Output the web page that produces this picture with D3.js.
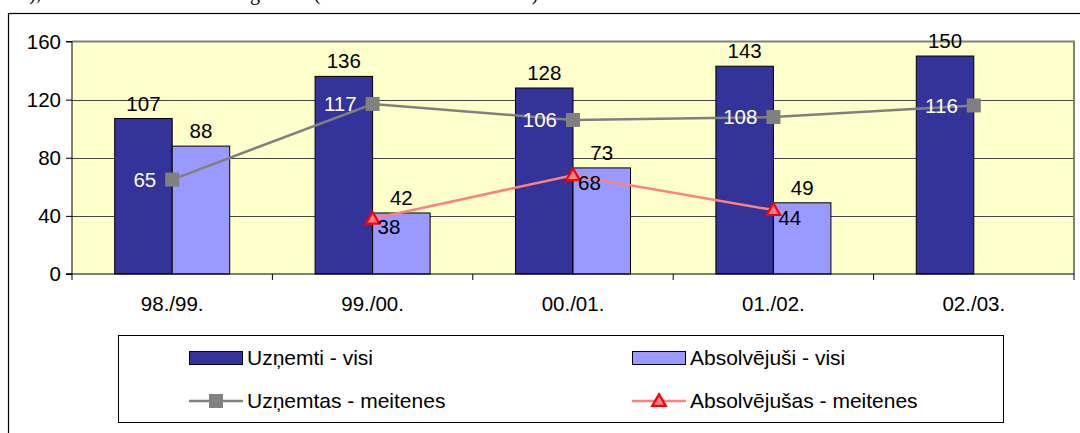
<!DOCTYPE html>
<html>
<head>
<meta charset="utf-8">
<script src="https://cdn.jsdelivr.net/npm/d3@7"></script>
<style>
  html, body { margin: 0; padding: 0; background: #fff; }
  svg { display: block; }
</style>
</head>
<body>
<svg id="chart" width="1080" height="433"></svg>
<script>
// ---- data ----
const categories = ["98./99.", "99./00.", "00./01.", "01./02.", "02./03."];
const uznemtiVisi = [107, 136, 128, 143, 150];
const absolvejusiVisi = [88, 42, 73, 49, null];
const uznemtasMeitenes = [65, 117, 106, 108, 116];
const absolvejusasMeitenes = [null, 38, 68, 44, null];
const yTicks = [0, 40, 80, 120, 160];
const seriesNames = ["Uzņemti - visi", "Absolvējuši - visi", "Uzņemtas - meitenes", "Absolvējušas - meitenes"];

// ---- styles ----
const FONT = "Liberation Sans, Arial, sans-serif";
const FS = 20.5;
const darkBar = "#333399", lightBar = "#9999FF";
const grayLine = "#808080", redLine = "#FF8080", redMarker = "#FF0000";
const plotBg = "#FFFFCC";

const svg = d3.select("#chart");
const plot = { left: 72, right: 1074, top: 41.5, bottom: 274 };

// clipped caption from the document above the chart
const SERIF = "Liberation Serif, Times New Roman, serif";
svg.append("text").attr("x", 41).attr("y", 0).attr("text-anchor", "end")
  .attr("font-family", SERIF).attr("font-size", 20).text("tabulā 3),");
svg.append("text").attr("x", 250).attr("y", 0).attr("text-anchor", "end")
  .attr("font-family", SERIF).attr("font-size", 20).text("Studentu skaits mācību ");
svg.append("text").attr("x", 250).attr("y", 0)
  .attr("font-family", SERIF).attr("font-size", 20).text("gadiem (1998./1999. – 2002./2003.)");

// outer chart frame
svg.append("rect").attr("x", 8.5).attr("y", 13.5).attr("width", 1100).attr("height", 500)
  .attr("fill", "none").attr("stroke", "#000").attr("stroke-width", 1.2);

// scales
const x0 = d3.scaleBand().domain(categories).range([plot.left, plot.right])
  .paddingInner(0.426).paddingOuter(0.213);
const x1 = d3.scaleBand().domain([0, 1]).range([0, x0.bandwidth()]);
const y = d3.scaleLinear().domain([0, 160]).range([plot.bottom, plot.top]);
const cx = c => x0(c) + x0.bandwidth() / 2;

// plot background
svg.append("rect").attr("x", plot.left).attr("y", plot.top)
  .attr("width", plot.right - plot.left).attr("height", plot.bottom - plot.top)
  .attr("fill", plotBg);

// gridlines
svg.append("g").selectAll("line").data(yTicks.filter(t => t > 0 && t < 160)).join("line")
  .attr("x1", plot.left).attr("x2", plot.right)
  .attr("y1", d => Math.round(y(d)) + 0.5).attr("y2", d => Math.round(y(d)) + 0.5)
  .attr("stroke", "#444").attr("stroke-width", 1);

// plot border (top & right gray)
svg.append("path")
  .attr("d", `M${plot.left},${plot.top}H${plot.right}V${plot.bottom}`)
  .attr("fill", "none").attr("stroke", "#808080").attr("stroke-width", 2);

// bars
const barData = [];
categories.forEach((c, i) => {
  if (uznemtiVisi[i] != null) barData.push({ c, s: 0, v: uznemtiVisi[i] });
  if (absolvejusiVisi[i] != null) barData.push({ c, s: 1, v: absolvejusiVisi[i] });
});
svg.append("g").selectAll("rect").data(barData).join("rect")
  .attr("x", d => x0(d.c) + x1(d.s))
  .attr("y", d => y(d.v))
  .attr("width", x1.bandwidth())
  .attr("height", d => y(0) - y(d.v))
  .attr("fill", d => d.s === 0 ? darkBar : lightBar)
  .attr("stroke", "#000").attr("stroke-width", 1);

// bar labels
svg.append("g").selectAll("text").data(barData).join("text")
  .attr("x", d => x0(d.c) + x1(d.s) + x1.bandwidth() / 2)
  .attr("y", d => y(d.v) - 8)
  .attr("text-anchor", "middle")
  .attr("font-family", FONT).attr("font-size", FS).attr("fill", "#000")
  .text(d => d.v);

// axes
const yAxis = d3.axisLeft(y).tickValues(yTicks).tickSize(6).tickPadding(5);
const gy = svg.append("g").attr("transform", `translate(${plot.left},0)`).call(yAxis);
gy.select(".domain").attr("stroke", "#000").attr("d", `M-6,${plot.bottom}H0V${plot.top}H-6`);
gy.selectAll("text").attr("font-family", FONT).attr("font-size", FS).attr("fill", "#000");
gy.selectAll("line").attr("stroke", "#000");

const gx = svg.append("g");
gx.append("line").attr("x1", plot.left - 6).attr("x2", plot.right)
  .attr("y1", plot.bottom).attr("y2", plot.bottom).attr("stroke", "#000").attr("stroke-width", 1.2);
const bounds = categories.map(c => x0(c) - x0.step() * 0.213).concat([plot.right]);
gx.selectAll("line.tick").data(bounds).join("line").attr("class", "tick")
  .attr("x1", d => d).attr("x2", d => d)
  .attr("y1", plot.bottom).attr("y2", plot.bottom + 6).attr("stroke", "#000");
gx.selectAll("text").data(categories).join("text")
  .attr("x", d => cx(d)).attr("y", 311)
  .attr("text-anchor", "middle")
  .attr("font-family", FONT).attr("font-size", FS).attr("fill", "#000")
  .text(d => d);

// lines
function drawLine(values, color) {
  const pts = categories.map((c, i) => ({ c, v: values[i] })).filter(d => d.v != null);
  const line = d3.line().x(d => cx(d.c)).y(d => y(d.v));
  svg.append("path").datum(pts).attr("d", line)
    .attr("fill", "none").attr("stroke", color).attr("stroke-width", 2.5);
  return pts;
}
const grayPts = drawLine(uznemtasMeitenes, grayLine);
svg.append("g").selectAll("rect").data(grayPts).join("rect")
  .attr("x", d => cx(d.c) - 7).attr("y", d => y(d.v) - 7)
  .attr("width", 14).attr("height", 14).attr("fill", grayLine);
svg.append("g").selectAll("text").data(grayPts).join("text")
  .attr("x", d => cx(d.c) - 16).attr("y", d => y(d.v))
  .attr("dy", "0.35em").attr("text-anchor", "end")
  .attr("font-family", FONT).attr("font-size", FS).attr("fill", "#fff")
  .text(d => d.v);

const redPts = drawLine(absolvejusasMeitenes, redLine);
const tri = d3.symbol().type(d3.symbolTriangle).size(80);
svg.append("g").selectAll("path").data(redPts).join("path")
  .attr("d", tri)
  .attr("transform", d => `translate(${cx(d.c)},${y(d.v) + 1})`)
  .attr("fill", redLine).attr("stroke", redMarker).attr("stroke-width", 2.2);
svg.append("g").selectAll("text").data(redPts).join("text")
  .attr("x", d => cx(d.c) + 5).attr("y", d => y(d.v) + 8)
  .attr("dy", "0.35em")
  .attr("font-family", FONT).attr("font-size", FS).attr("fill", "#000")
  .text(d => d.v);

// legend
const lg = svg.append("g");
lg.append("rect").attr("x", 118.5).attr("y", 335.5).attr("width", 885).attr("height", 87)
  .attr("fill", "#fff").attr("stroke", "#000").attr("stroke-width", 1);
const legendItems = [
  { name: seriesNames[0], type: "bar", color: darkBar, x: 189, y: 358 },
  { name: seriesNames[1], type: "bar", color: lightBar, x: 632, y: 358 },
  { name: seriesNames[2], type: "gray", color: grayLine, x: 189, y: 401 },
  { name: seriesNames[3], type: "red", color: redLine, x: 632, y: 401 }
];
legendItems.forEach(it => {
  const g = lg.append("g").attr("transform", `translate(${it.x},${it.y})`);
  if (it.type === "bar") {
    g.append("rect").attr("x", 0.5).attr("y", -6.5).attr("width", 53).attr("height", 13)
      .attr("fill", it.color).attr("stroke", "#000").attr("stroke-width", 1);
  } else {
    g.append("line").attr("x1", 0).attr("x2", 54).attr("y1", 0).attr("y2", 0)
      .attr("stroke", it.color).attr("stroke-width", 2.5);
    if (it.type === "gray") {
      g.append("rect").attr("x", 20).attr("y", -7).attr("width", 14).attr("height", 14)
        .attr("fill", grayLine);
    } else {
      g.append("path").attr("d", tri).attr("transform", "translate(27,1)")
        .attr("fill", redLine).attr("stroke", redMarker).attr("stroke-width", 2.2);
    }
  }
  g.append("text").attr("x", 58).attr("y", 0).attr("dy", "0.35em")
    .attr("font-family", FONT).attr("font-size", 21).attr("fill", "#000")
    .text(it.name);
});
</script>
</body>
</html>
